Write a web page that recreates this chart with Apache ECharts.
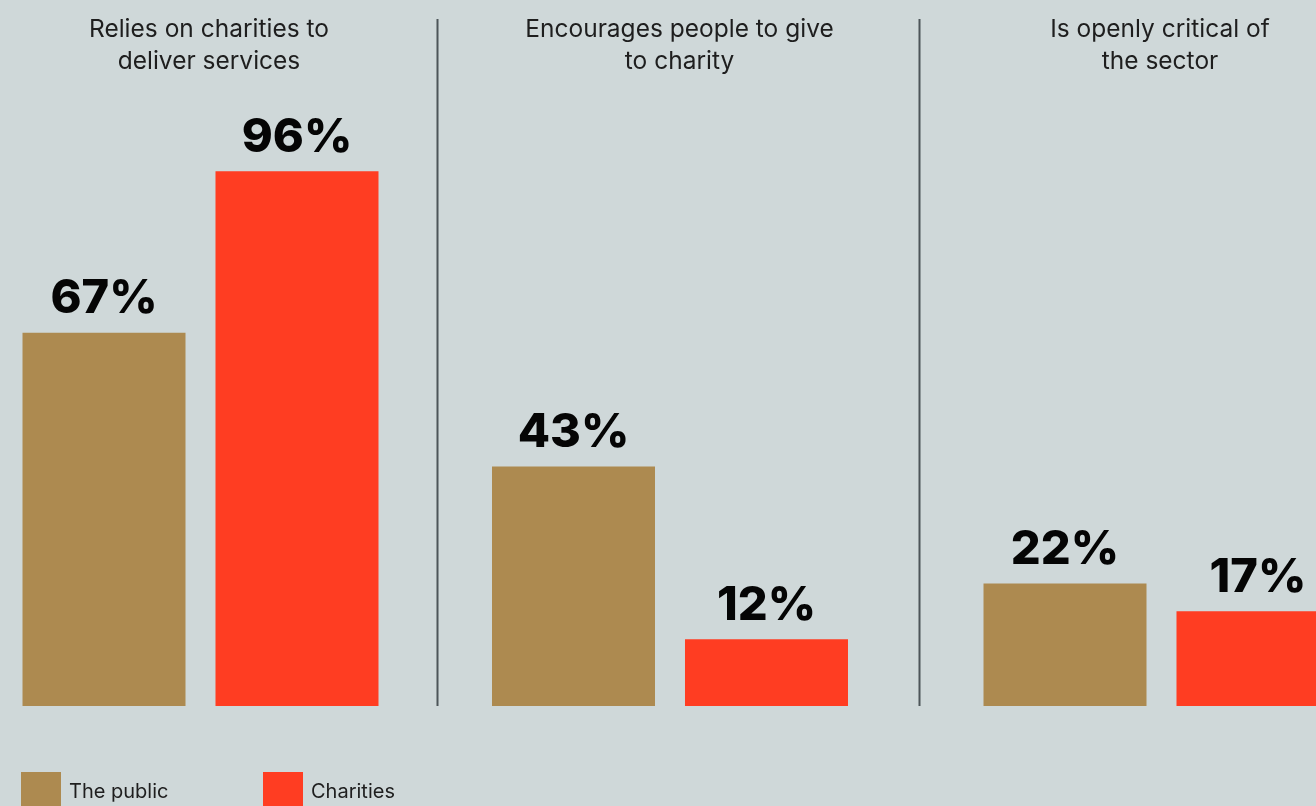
<!DOCTYPE html>
<html>
<head>
<meta charset="utf-8">
<script src="https://cdn.jsdelivr.net/npm/echarts@6/dist/echarts.min.js"></script>
<style>
  html, body { margin: 0; padding: 0; background: #cfd8d9; }
  #chart { width: 1316px; height: 806px; }
</style>
</head>
<body>
<div id="chart"></div>
<script>
// Survey statements, one panel each
const groups = [
  'Relies on charities to\ndeliver services',
  'Encourages people to give\nto charity',
  'Is openly critical of\nthe sector'
];
const seriesNames = ['The public', 'Charities'];
const publicValues = [67, 43, 22];
const charitiesValues = [96, 12, 17];
const seriesColors = ['#ad8a50', '#ff3d22'];

// Panel placement (centre of each bar pair, centre of each heading)
const panelCenters = [200.5, 670, 1161.5];
const titleCenters = [209, 679.5, 1160];
const dividerX = [437.5, 919.5];
const legendLeft = [21, 263];

const panelWidth = 400;
const barWidth = 163;

const grids = [], xAxes = [], yAxes = [], series = [], titles = [];
groups.forEach((g, i) => {
  grids.push({
    left: panelCenters[i] - panelWidth / 2,
    width: panelWidth,
    top: 149,
    height: 557,
    outerBoundsMode: 'none',
    containLabel: false
  });
  xAxes.push({ gridIndex: i, type: 'category', data: [g], show: false });
  yAxes.push({ gridIndex: i, type: 'value', min: 0, max: 100, show: false });
  [publicValues, charitiesValues].forEach((vals, s) => {
    series.push({
      name: seriesNames[s],
      type: 'bar',
      xAxisIndex: i,
      yAxisIndex: i,
      data: [vals[i]],
      barWidth: barWidth,
      barGap: '18.4%',
      itemStyle: { color: seriesColors[s] },
      emphasis: { disabled: true },
      label: {
        show: true,
        position: 'top',
        distance: 10,
        formatter: '{c}%',
        color: '#050505',
        fontFamily: 'Inter',
        fontWeight: 800,
        fontSize: 47,
        lineHeight: 47
      }
    });
  });
  titles.push({
    text: g,
    left: titleCenters[i],
    top: 14,
    textAlign: 'center',
    padding: 0,
    textStyle: {
      fontFamily: 'Inter',
      fontWeight: 'normal',
      fontSize: 24.5,
      lineHeight: 32,
      color: '#1e1e1e'
    }
  });
});

const chart = echarts.init(document.getElementById('chart'), null, { renderer: 'canvas' });
chart.setOption({
  backgroundColor: '#cfd8d9',
  animation: false,
  title: titles,
  grid: grids,
  xAxis: xAxes,
  yAxis: yAxes,
  series: series,
  legend: seriesNames.map((name, k) => ({
    data: [name],
    left: legendLeft[k],
    top: 772,
    padding: 0,
    itemWidth: 40,
    itemHeight: 40,
    icon: 'rect',
    selectedMode: false,
    textStyle: {
      fontFamily: 'Inter',
      fontSize: 20,
      color: '#1e1e1e',
      padding: [8, 0, 0, 3]
    }
  })),
  graphic: dividerX.map(x => ({
    type: 'line',
    shape: { x1: x, y1: 19, x2: x, y2: 706 },
    style: { stroke: '#4d5559', lineWidth: 2 },
    silent: true
  }))
});
</script>
</body>
</html>
